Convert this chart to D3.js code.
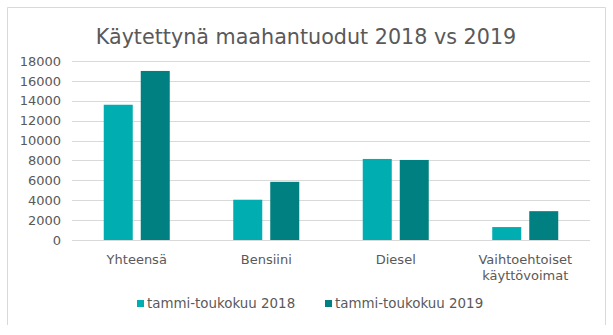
<!DOCTYPE html>
<html>
<head>
<meta charset="utf-8">
<script src="https://cdn.jsdelivr.net/npm/d3@7"></script>
<style>
  html, body { margin: 0; padding: 0; background: #fff; }
  svg { display: block; }
  text { font-family: "DejaVu Sans", Verdana, sans-serif; fill: #595959; }
</style>
</head>
<body>
<svg id="chart" width="613" height="335"></svg>
<script>
// Käytettynä maahantuodut ajoneuvot käyttövoiman mukaan
const categories = [["Yhteensä"], ["Bensiini"], ["Diesel"], ["Vaihtoehtoiset", "käyttövoimat"]];
const seriesNames = ["tammi-toukokuu 2018", "tammi-toukokuu 2019"];
const values2018 = [13600, 4050, 8150, 1300];
const values2019 = [17000, 5850, 8050, 2900];
const yTicks = [0, 2000, 4000, 6000, 8000, 10000, 12000, 14000, 16000, 18000];
const colors = ["#00ADB0", "#008080"];

const svg = d3.select("#chart");
const W = 613, H = 335;
const margin = { left: 72, right: 23, top: 61, bottom: 95 };
const plotW = W - margin.left - margin.right;
const plotH = H - margin.top - margin.bottom;

// Chart frame
const frame = svg.append("g").attr("fill", "none").attr("stroke", "#d9d9d9").attr("stroke-width", 1);
frame.append("path").attr("d", "M7.5,325 V7.5 H605.5 V325");

// Title
svg.append("text")
  .attr("x", 306).attr("y", 44)
  .attr("text-anchor", "middle")
  .style("font-size", "20.7px")
  .text("Käytettynä maahantuodut 2018 vs 2019");

const g = svg.append("g").attr("transform", `translate(${margin.left},${margin.top})`);

const x0 = d3.scaleBand().domain(d3.range(categories.length)).range([0, plotW]).paddingInner(0).paddingOuter(0);
const y = d3.scaleLinear().domain([0, 18000]).range([plotH, 0]);
const barW = 29, barGap = 8;
const x1 = d3.scaleOrdinal().domain([0, 1]).range([-(barW + barGap / 2), barGap / 2]);

// Gridlines
g.append("g").selectAll("line").data(yTicks).join("line")
  .attr("x1", 0).attr("x2", plotW)
  .attr("y1", d => Math.round(y(d)) + 0.5).attr("y2", d => Math.round(y(d)) + 0.5)
  .attr("stroke", "#d9d9d9").attr("stroke-width", 1);

// Y axis labels
const yAxis = d3.axisLeft(y).tickValues(yTicks).tickFormat(d3.format("d")).tickSize(0).tickPadding(11);
const ya = g.append("g").call(yAxis);
ya.select(".domain").remove();
ya.selectAll("text").style("font-size", "13px").attr("fill", "#595959").style("font-family", null);

// Bars
const seriesData = [values2018, values2019];
seriesData.forEach((vals, si) => {
  g.append("g").attr("fill", colors[si]).selectAll("rect").data(vals).join("rect")
    .attr("x", (d, i) => x0(i) + x0.bandwidth() / 2 + x1(si))
    .attr("y", d => y(d))
    .attr("width", barW)
    .attr("height", d => y(0) - y(d));
});

// Category labels
const cat = g.append("g").selectAll("text").data(categories).join("text")
  .attr("x", (d, i) => x0(i) + x0.bandwidth() / 2)
  .attr("y", plotH + 24)
  .attr("text-anchor", "middle")
  .style("font-size", "13px");
cat.selectAll("tspan").data(d => d).join("tspan")
  .attr("x", function () { return this.parentNode.getAttribute("x"); })
  .attr("dy", (d, i) => i === 0 ? 0 : 16)
  .text(d => d);

// Legend
const legendX = [137, 325];
const legend = svg.append("g").selectAll("g").data(seriesNames).join("g")
  .attr("transform", (d, i) => `translate(${legendX[i]},300)`);
legend.append("rect").attr("width", 7).attr("height", 7).attr("fill", (d, i) => colors[i]);
legend.append("text").attr("x", 10).attr("y", 8).style("font-size", "13.4px").text(d => d);
</script>
</body>
</html>
